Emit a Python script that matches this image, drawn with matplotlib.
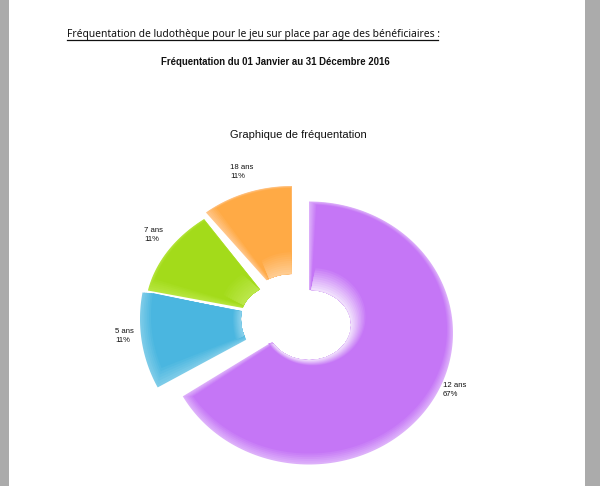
import numpy as np
import matplotlib
matplotlib.use("Agg")
import matplotlib.pyplot as plt
from matplotlib.colors import to_rgb
from matplotlib.patches import Polygon

# valeurs
ages = ["12 ans", "5 ans", "7 ans", "18 ans"]
valeurs = [67, 11, 11, 11]

# style des parts, en pixels : couleur, reflet, ellipse ext., ellipse int.
couleurs = ["#C576F6", "#4AB6E0", "#A3DB1A", "#FFAA45"]
reflets = ["#DDB0FA", "#7CCBE8", "#B6E63E", "#FFC588"]
lueurs = ["#F4E8FD", "#8FD3EC", "#BDE84E", "#FFCF98"]
ext = [(309, 333, 144, 131.5), (283, 319, 143, 142), (308, 313.5, 163, 122.6), (292, 301.5, 135, 115.5)]
inte = [(309, 325, 42, 35), (283, 319, 42, 43), (292, 314, 50, 32), (292, 301.5, 40, 27.5)]
# bande claire du bord ext. (dx, dy, drx, dry) et lueur autour du trou
bandes = [(0, -4, 6, 7), (3, -3, 8, 8), (0, -2, 4, 4), (0, 0, 2, 2)]
lueur_ell = [(313, 316, 54, 50), (270, 319, 38, 55), (281, 306, 62, 44), (292, 300, 55, 50)]
bord_angle = [(3, 4), (6, 1), (5, 1), (5, 0.5)]
pos_labels = [(443, 385), (115, 331), (144, 230), (230, 167)]


def secteur(e_out, e_in, a0, a1):
    t = np.radians(np.linspace(a0, a1, 160))
    xo = e_out[0] + e_out[2] * np.sin(t)
    yo = e_out[1] - e_out[3] * np.cos(t)
    xi = e_in[0] + e_in[2] * np.sin(t[::-1])
    yi = e_in[1] - e_in[3] * np.cos(t[::-1])
    return np.column_stack([np.r_[xo, xi], np.r_[yo, yi]])


def melange(c1, c2, k):
    return tuple((1 - k) * np.array(to_rgb(c1)) + k * np.array(to_rgb(c2)))


fig = plt.figure(figsize=(6, 4.86), dpi=100, facecolor="#ABABAB")
ax = fig.add_axes([0, 0, 1, 1])
ax.set_xlim(0, 600)
ax.set_ylim(486, 0)
ax.axis("off")
ax.fill_between([9, 585], 0, 486, color="white", lw=0)

debut = 0
total = sum(valeurs)
for i in range(len(valeurs)):
    fin = debut + 360 * valeurs[i] / total
    e_o = np.array(ext[i])
    e_i = np.array(inte[i])
    b = np.array(bandes[i])
    # bord clair vers la couleur principale
    for k in np.linspace(0, 1, 7):
        e = e_o + k * np.array([b[0], b[1], -b[2], -b[3]])
        a0 = debut + k * bord_angle[i][0]
        a1 = fin - k * bord_angle[i][1]
        coul = melange(reflets[i], couleurs[i], k)
        ax.add_patch(Polygon(secteur(e, e_i, a0, a1), color=coul, lw=0))
    # lueur autour du trou
    g = np.array(lueur_ell[i])
    a0 = debut + bord_angle[i][0]
    a1 = fin - bord_angle[i][1]
    for k in np.linspace(0, 1, 12)[1:]:
        e = g + k * (e_i - g)
        ax.add_patch(Polygon(secteur(e, e_i, a0, a1), color=melange(couleurs[i], lueurs[i], k), lw=0))
    ax.text(pos_labels[i][0], pos_labels[i][1], ages[i], fontsize=5.6, family="Liberation Sans", va="center", color="#111111")
    ax.text(pos_labels[i][0], pos_labels[i][1] + 9, "%d%%" % valeurs[i], fontsize=5.6, family="Liberation Sans", va="center", color="#111111")
    debut = fin

ax.text(67, 35, "Fréquentation de ludothèque pour le jeu sur place par age des bénéficiaires :",
        fontsize=7.4, family="Noto Sans", va="center", color="#111111")
ax.plot([67, 438], [40.5, 40.5], color="#111111", lw=0.9)
ax.text(275.5, 62, "Fréquentation du 01 Janvier au 31 Décembre 2016", fontsize=6.9,
        family="Liberation Sans", weight="bold", ha="center", va="center", color="#111111")
ax.text(298, 134.5, "Graphique de fréquentation", fontsize=8.0, family="Liberation Sans",
        ha="center", va="center", color="#111111")

fig.savefig("out.png", dpi=100, facecolor=fig.get_facecolor())
